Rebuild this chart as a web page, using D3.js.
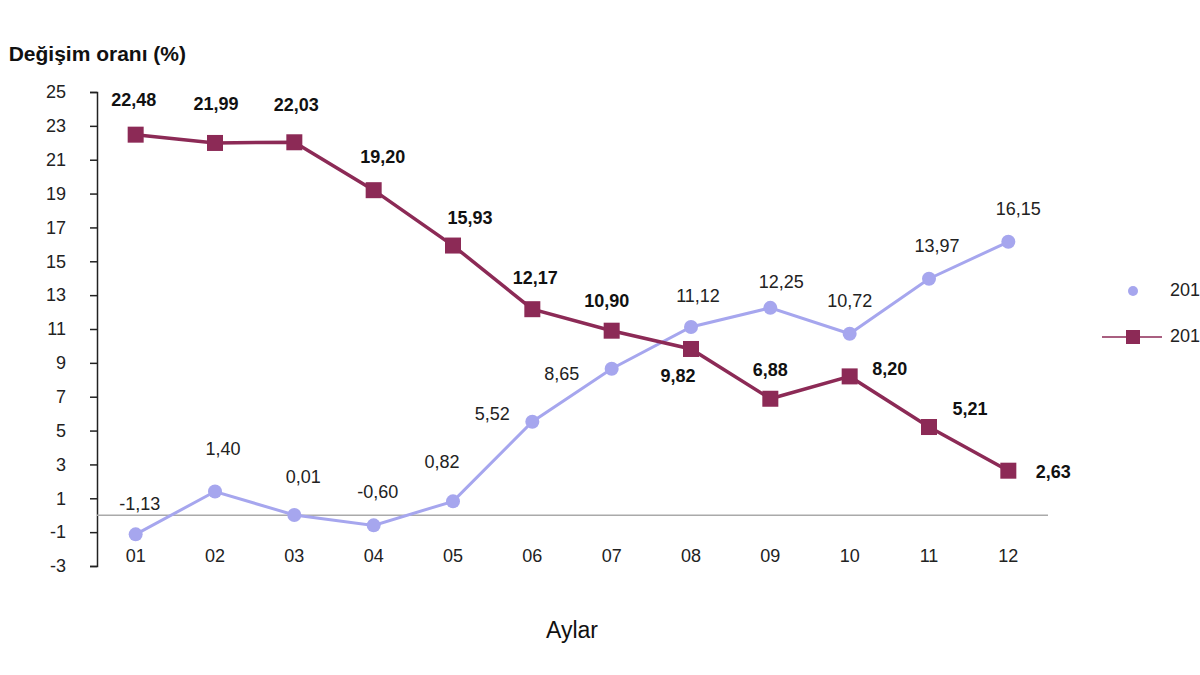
<!DOCTYPE html>
<html><head><meta charset="utf-8">
<script src="https://cdn.jsdelivr.net/npm/d3@7"></script>
<style>html,body{margin:0;padding:0;background:#fff;overflow:hidden}</style>
</head><body><svg id="c" width="1200" height="675"></svg>
<script>
const months = ["01","02","03","04","05","06","07","08","09","10","11","12"];
const seriesA = [-1.13, 1.40, 0.01, -0.60, 0.82, 5.52, 8.65, 11.12, 12.25, 10.72, 13.97, 16.15];
const seriesB = [22.48, 21.99, 22.03, 19.20, 15.93, 12.17, 10.90, 9.82, 6.88, 8.20, 5.21, 2.63];
const labelsA = ["-1,13","1,40","0,01","-0,60","0,82","5,52","8,65","11,12","12,25","10,72","13,97","16,15"];
const labelsB = ["22,48","21,99","22,03","19,20","15,93","12,17","10,90","9,82","6,88","8,20","5,21","2,63"];
const yTicks = [25,23,21,19,17,15,13,11,9,7,5,3,1,-1,-3];
const seriesNames = ["2018","2019"];

// label offsets (layout)
const offA = [[4,-29],[8,-41],[9,-37],[4,-32],[-11,-38],[-40,-7],[-50,6],[7,-30],[11,-25],[0,-31],[8,-31],[10,-32]];
const offB = [[-2,-33],[1,-38],[2,-36],[9,-32],[17,-26],[3,-30],[-5,-28],[-13,28],[0,-27],[40,-6],[41,-17],[45,3]];

const svg = d3.select("#c");
const x = d3.scalePoint().domain(months).range([96,1048]).padding(0.5);
const y = d3.scaleLinear().domain([-3,25]).range([566,92]);

const colA = "#a6a6ee", colB = "#8c2a56";
const font = "Arial, 'Liberation Sans', sans-serif";

// y axis
const ya = svg.append("g").attr("transform","translate(97,0)")
  .call(d3.axisLeft(y).tickValues(yTicks).tickSize(7).tickSizeOuter(7).tickFormat(d=>d));
ya.select(".domain").attr("stroke","#222").attr("stroke-width",1.5);
ya.selectAll(".tick line").attr("stroke","#222").attr("stroke-width",1.5);
ya.selectAll(".tick text").attr("x",-31).attr("font-family",font).attr("font-size",18).attr("fill","#222");

// zero line
svg.append("line").attr("x1",97).attr("x2",1048).attr("y1",y(0)).attr("y2",y(0))
  .attr("stroke","#aaa").attr("stroke-width",1.5);

// x labels
svg.append("g").selectAll("text").data(months).join("text")
  .attr("x",d=>x(d)).attr("y",557).attr("text-anchor","middle").attr("dominant-baseline","middle")
  .attr("font-family",font).attr("font-size",18).attr("fill","#222").text(d=>d);

const line = d3.line().x((d,i)=>x(months[i])).y(d=>y(d));

// series A (light)
svg.append("path").datum(seriesA).attr("d",line).attr("fill","none").attr("stroke",colA).attr("stroke-width",3);
svg.append("g").selectAll("circle").data(seriesA).join("circle")
  .attr("cx",(d,i)=>x(months[i])).attr("cy",d=>y(d)).attr("r",7).attr("fill",colA);

// series B (dark)
svg.append("path").datum(seriesB).attr("d",line).attr("fill","none").attr("stroke",colB).attr("stroke-width",3.5);
svg.append("g").selectAll("rect").data(seriesB).join("rect")
  .attr("x",(d,i)=>x(months[i])-8).attr("y",d=>y(d)-8).attr("width",16).attr("height",16).attr("fill",colB);

// data labels
svg.append("g").selectAll("text").data(seriesA).join("text")
  .attr("x",(d,i)=>x(months[i])+offA[i][0]).attr("y",(d,i)=>y(d)+offA[i][1])
  .attr("text-anchor","middle").attr("dominant-baseline","middle")
  .attr("font-family",font).attr("font-size",18).attr("fill","#222").text((d,i)=>labelsA[i]);
svg.append("g").selectAll("text").data(seriesB).join("text")
  .attr("x",(d,i)=>x(months[i])+offB[i][0]).attr("y",(d,i)=>y(d)+offB[i][1])
  .attr("text-anchor","middle").attr("dominant-baseline","middle")
  .attr("font-family",font).attr("font-size",18).attr("font-weight","bold").attr("fill","#111").text((d,i)=>labelsB[i]);

// titles
svg.append("text").attr("x",186).attr("y",55).attr("text-anchor","end").attr("dominant-baseline","middle")
  .attr("font-family",font).attr("font-size",21).attr("font-weight","bold").attr("fill","#111").text("Değişim oranı (%)");
svg.append("text").attr("x",572).attr("y",632).attr("text-anchor","middle").attr("dominant-baseline","middle")
  .attr("font-family",font).attr("font-size",23).attr("fill","#111").text("Aylar");

// legend
const lg = svg.append("g");
lg.append("circle").attr("cx",1133).attr("cy",291).attr("r",5).attr("fill",colA);
lg.append("line").attr("x1",1102).attr("x2",1162).attr("y1",337).attr("y2",337).attr("stroke",colB).attr("stroke-width",1.5);
lg.append("rect").attr("x",1126).attr("y",330).attr("width",14).attr("height",14).attr("fill",colB);
lg.selectAll("text").data(seriesNames).join("text")
  .attr("x",1170).attr("y",(d,i)=>291+i*46).attr("dominant-baseline","middle")
  .attr("font-family",font).attr("font-size",18).attr("fill","#222").text(d=>d);
</script></body></html>
